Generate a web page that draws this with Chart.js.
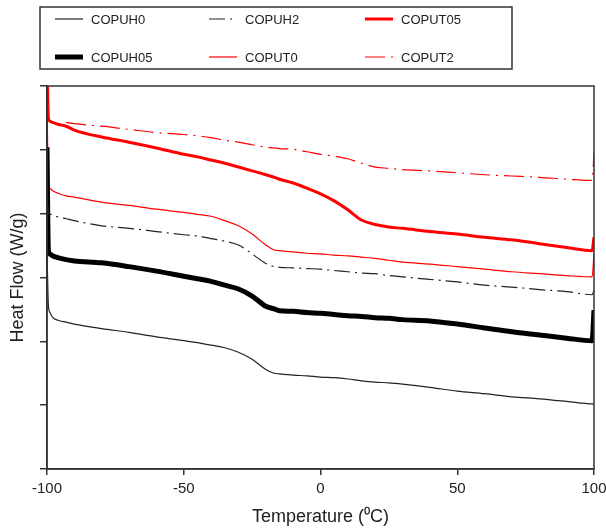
<!DOCTYPE html>
<html>
<head>
<meta charset="utf-8">
<script src="https://cdn.jsdelivr.net/npm/chart.js@4.4.1/dist/chart.umd.min.js"></script>
<style>
  html, body { margin: 0; padding: 0; background: #fff; }
  #wrap { width: 606px; height: 528px; }
</style>
</head>
<body>
<div id="wrap"><canvas id="dsc" width="606" height="528"></canvas></div>
<script>
// temperature grid (deg C), shared by all curves
const temps = [-100, -99.5, -99, -98, -96, -93, -90, -80, -70, -60, -50, -45, -40, -35, -30, -25, -20, -17, -15, -10, -5,
  0, 5, 10, 15, 20, 25, 30, 40, 50, 60, 70, 80, 90, 99.3, 100];

// heat flow, arbitrary offset units (W/g)
const copuh0 = [3.43, 2.57, 2.46, 2.38, 2.33, 2.30, 2.27, 2.20, 2.14, 2.07, 2.01, 1.98, 1.94, 1.90, 1.83, 1.72, 1.56, 1.50, 1.49, 1.47, 1.46,
  1.44, 1.43, 1.41, 1.38, 1.36, 1.35, 1.33, 1.28, 1.22, 1.18, 1.13, 1.10, 1.06, 1.02, 1.02];
const copuh05 = [5.04, 3.43, 3.37, 3.34, 3.31, 3.28, 3.26, 3.23, 3.17, 3.10, 3.02, 2.98, 2.94, 2.88, 2.82, 2.71, 2.55, 2.51, 2.48, 2.47, 2.45,
  2.44, 2.42, 2.40, 2.39, 2.37, 2.36, 2.34, 2.32, 2.27, 2.21, 2.15, 2.10, 2.05, 2.01, 2.49];
const copuh2 = [4.21, 4.03, 4.00, 3.98, 3.95, 3.92, 3.89, 3.81, 3.77, 3.72, 3.67, 3.65, 3.61, 3.57, 3.51, 3.37, 3.22, 3.17, 3.16, 3.15, 3.14,
  3.13, 3.11, 3.09, 3.07, 3.06, 3.03, 3.01, 2.97, 2.93, 2.88, 2.85, 2.81, 2.78, 2.73, 2.80];
const coput0 = [5.86, 4.45, 4.40, 4.36, 4.32, 4.28, 4.26, 4.18, 4.13, 4.07, 4.02, 3.99, 3.96, 3.89, 3.81, 3.68, 3.51, 3.43, 3.42, 3.40, 3.38,
  3.37, 3.35, 3.34, 3.32, 3.30, 3.27, 3.24, 3.21, 3.17, 3.13, 3.09, 3.06, 3.03, 3.01, 3.38];
const coput05 = [6.41, 5.50, 5.45, 5.43, 5.40, 5.37, 5.31, 5.20, 5.12, 5.03, 4.93, 4.89, 4.84, 4.79, 4.73, 4.67, 4.61, 4.57, 4.54, 4.48, 4.40,
  4.31, 4.20, 4.06, 3.90, 3.83, 3.79, 3.77, 3.72, 3.68, 3.63, 3.59, 3.53, 3.47, 3.42, 3.63];
const coput2 = [null, null, null, null, null, 5.43, 5.41, 5.37, 5.32, 5.27, 5.24, 5.22, 5.19, 5.15, 5.12, 5.08, 5.04, 5.03, 5.02, 5.01, 4.97,
  4.93, 4.90, 4.86, 4.79, 4.73, 4.71, 4.69, 4.67, 4.64, 4.61, 4.59, 4.57, 4.54, 4.52, 4.95];

const xTicks = [-100, -50, 0, 50, 100];

const font = '"Liberation Sans", Arial, sans-serif';
const axisColor = '#333';

function pts(vals) {
  return temps.map((t, i) => ({ x: t, y: vals[i] }));
}

// legend slots: 3 columns x 2 rows, same order as datasets
const legendSlots = [[55, 19], [209, 19], [365, 19], [55, 57], [209, 57], [365, 57]];

const boxLegend = {
  id: 'boxLegend',
  afterDraw(chart) {
    const ctx = chart.ctx;
    const a = chart.chartArea;
    ctx.save();
    ctx.strokeStyle = axisColor;
    ctx.lineWidth = 1.5;
    ctx.strokeRect(a.left, a.top, a.right - a.left, a.bottom - a.top);
    ctx.strokeRect(40, 7, 472, 62);
    ctx.font = '13px ' + font;
    ctx.fillStyle = '#222';
    ctx.textBaseline = 'middle';
    chart.data.datasets.forEach((ds, i) => {
      const [x, y] = legendSlots[i];
      ctx.beginPath();
      ctx.strokeStyle = ds.borderColor;
      ctx.lineWidth = ds.borderWidth;
      ctx.setLineDash(ds.borderDash || []);
      ctx.moveTo(x, y);
      ctx.lineTo(x + 28, y);
      ctx.stroke();
      ctx.setLineDash([]);
      ctx.fillText(ds.label, x + 36, y + 1);
    });
    ctx.restore();
  }
};

new Chart(document.getElementById('dsc'), {
  type: 'line',
  data: {
    datasets: [
      { label: 'COPUH0', data: pts(copuh0), borderColor: '#222', borderWidth: 1.2 },
      { label: 'COPUH2', data: pts(copuh2), borderColor: '#222', borderWidth: 1.2, borderDash: [16, 5, 2, 5] },
      { label: 'COPUT05', data: pts(coput05), borderColor: '#ff0000', borderWidth: 3 },
      { label: 'COPUH05', data: pts(copuh05), borderColor: '#000', borderWidth: 5 },
      { label: 'COPUT0', data: pts(coput0), borderColor: '#ff0000', borderWidth: 1.2 },
      { label: 'COPUT2', data: pts(coput2), borderColor: '#ff0000', borderWidth: 1.2, borderDash: [20, 6, 2, 6] }
    ]
  },
  options: {
    responsive: false,
    animation: false,
    layout: { padding: { top: 86, right: 12, left: 0, bottom: 0 } },
    plugins: { legend: { display: false }, tooltip: { enabled: false } },
    elements: {
      point: { radius: 0 },
      line: { cubicInterpolationMode: 'monotone', fill: false }
    },
    scales: {
      x: {
        type: 'linear',
        min: -100,
        max: 100,
        afterBuildTicks: s => { s.ticks = xTicks.map(v => ({ value: v })); },
        ticks: { color: '#222', font: { size: 15, family: font }, padding: 5, maxRotation: 0 },
        grid: { drawOnChartArea: false, tickLength: 6, color: axisColor, lineWidth: 1.5 },
        border: { color: axisColor, width: 1.5 },
        title: { display: true, text: 'Temperature (⁰C)', color: '#222', font: { size: 18, family: font }, padding: { top: 0, bottom: 0 } },
        afterFit: s => { s.height = 59; s.paddingLeft = 0; s.paddingRight = 0; }
      },
      y: {
        min: 0,
        max: 6,
        ticks: { stepSize: 1, display: false },
        grid: { drawOnChartArea: false, tickLength: 7, color: axisColor, lineWidth: 1.5 },
        border: { color: axisColor, width: 1.5 },
        title: { display: true, text: 'Heat Flow (W/g)', color: '#222', font: { size: 18, family: font }, padding: { top: 7, bottom: 0 } },
        afterFit: s => { s.width = 47; }
      }
    }
  },
  plugins: [boxLegend]
});
</script>
</body>
</html>
